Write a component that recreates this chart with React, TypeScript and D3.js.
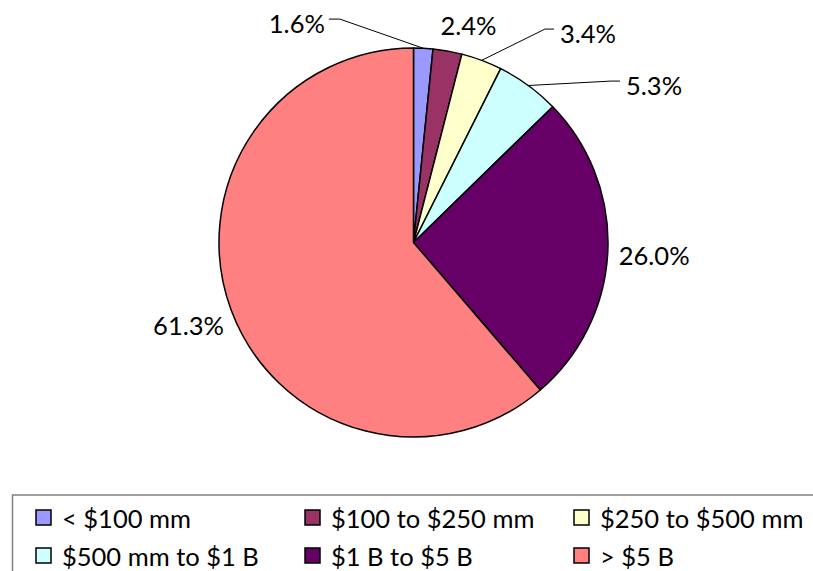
import * as d3 from 'd3';
import { useEffect, useRef } from 'react';

const categories = ['< $100 mm', '$100 to $250 mm', '$250 to $500 mm', '$500 mm to $1 B', '$1 B to $5 B', '> $5 B'];
const shares = [1.6, 2.4, 3.4, 5.3, 26.0, 61.3];
const colors = ['#9999FF', '#993366', '#FFFFCC', '#CCFFFF', '#660066', '#FF8080'];

// label placement around the pie (degrees clockwise from 12 o'clock, distance from centre)
const labelAngles = [332, 14.2, 39.8, 56.8, 93, 249.9];
const labelDists = [248.5, 224, 272.6, 287.5, 241, 239.6];
const hasLeader = [true, false, true, true, false, false];

const FONT = 'Lato, "Noto Sans", sans-serif';

export default function App() {
  const svgRef = useRef<SVGSVGElement | null>(null);

  useEffect(() => {
    if (!svgRef.current) return;
    const svg = d3.select(svgRef.current);
    svg.selectAll('*').remove();

    const width = 813;
    const height = 571;
    const cx = 413.5;
    const cy = 242.5;
    const radius = 194.5;

    const pie = d3.pie<number>().sort(null).value((d) => d);
    const arcs = pie(shares);
    const arc = d3.arc<d3.PieArcDatum<number>>().innerRadius(0).outerRadius(radius);

    svg.append('rect').attr('width', width).attr('height', height).attr('fill', '#fff');

    const chart = svg.append('g').attr('transform', `translate(${cx},${cy})`);

    chart
      .selectAll('path')
      .data(arcs)
      .enter()
      .append('path')
      .attr('d', arc)
      .attr('fill', (_, i) => colors[i])
      .attr('stroke', '#000')
      .attr('stroke-width', 1.5)
      .attr('stroke-linejoin', 'round');

    const polar = (deg: number, r: number) => {
      const a = (deg * Math.PI) / 180;
      return [r * Math.sin(a), -r * Math.cos(a)];
    };

    arcs.forEach((a, i) => {
      const [lx, ly] = polar(labelAngles[i], labelDists[i]);
      const text = chart
        .append('text')
        .attr('x', lx)
        .attr('y', ly)
        .attr('text-anchor', 'middle')
        .attr('dominant-baseline', 'central')
        .attr('font-family', FONT)
        .attr('font-size', 25.5)
        .attr('fill', '#000')
        .text(`${shares[i].toFixed(1)}%`);

      if (!hasLeader[i]) return;
      const w = (text.node() as SVGTextElement).getComputedTextLength();
      const mid = (((a.startAngle + a.endAngle) / 2) * 180) / Math.PI;
      const [ax, ay] = polar(mid, radius);
      const lineY = ly - 4;
      let edge: number;
      let elbow: number;
      if (lx < ax) {
        edge = lx + w / 2 + 4;
        elbow = edge + 11;
      } else {
        edge = lx - w / 2 - 6;
        elbow = edge - 9;
      }
      chart
        .append('polyline')
        .attr('points', `${ax},${ay} ${elbow},${lineY} ${edge},${lineY}`)
        .attr('fill', 'none')
        .attr('stroke', '#000')
        .attr('stroke-width', 1);
    });

    // legend
    const legend = svg.append('g');
    legend
      .append('rect')
      .attr('x', 12.5)
      .attr('y', 495)
      .attr('width', 820)
      .attr('height', 100)
      .attr('fill', '#fff')
      .attr('stroke', '#808080')
      .attr('stroke-width', 1.5);

    const colX = d3.scaleOrdinal<number, number>().domain([0, 1, 2]).range([36, 305, 574]);
    const rowY = d3.scaleOrdinal<number, number>().domain([0, 1]).range([518, 556]);

    categories.forEach((c, i) => {
      const x = colX(i % 3);
      const y = rowY(Math.floor(i / 3));
      legend
        .append('rect')
        .attr('x', x)
        .attr('y', y - 8)
        .attr('width', 15)
        .attr('height', 15)
        .attr('fill', colors[i])
        .attr('stroke', '#000')
        .attr('stroke-width', 1.5);
      legend
        .append('text')
        .attr('x', x + 26)
        .attr('y', y)
        .attr('dominant-baseline', 'central')
        .attr('font-family', FONT)
        .attr('font-size', 25.5)
        .attr('fill', '#000')
        .text(c);
    });
  }, []);

  return (
    <svg
      ref={svgRef}
      width={813}
      height={571}
      style={{ position: 'absolute', left: 0, top: 0, display: 'block' }}
    ></svg>
  );
}
